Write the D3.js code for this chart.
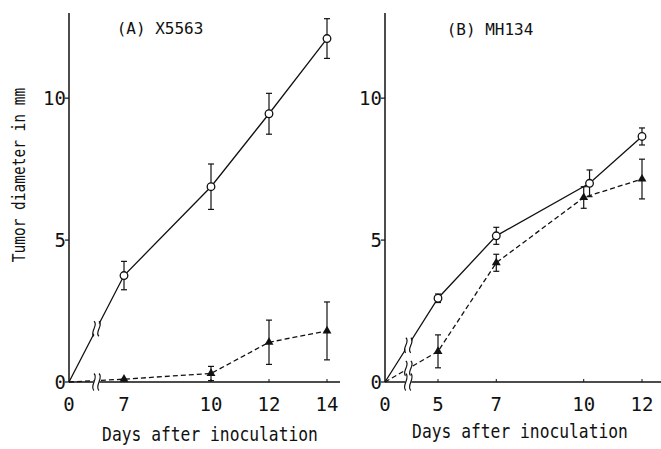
<!DOCTYPE html>
<html><head><meta charset="utf-8">
<script src="https://cdn.jsdelivr.net/npm/d3@7"></script>
<style>body{margin:0;background:#fff}svg{display:block}text{font-family:"DejaVu Sans Mono",monospace;fill:#111}</style>
</head><body><svg id="c" width="661" height="449"></svg>
<script>
// ---- data ----
const titles = ["(A) X5563", "(B) MH134"];
const yTicks = [0, 5, 10];
const xTicksA = [0, 7, 10, 12, 14];
const xTicksB = [0, 5, 7, 10, 12];
const daysA = [0, 7, 10, 12, 14];
const controlA = [0, 3.75, 6.88, 9.45, 12.1];
const controlAErr = [0, 0.5, 0.8, 0.72, 0.7];
const treatedA = [0, 0.1, 0.3, 1.4, 1.8];
const treatedAErr = [0, 0, 0.25, 0.78, 1.02];
const daysBControl = [0, 5, 7, 10.2, 12];
const daysBTreated = [0, 5, 7, 10, 12];
const controlB = [0, 2.95, 5.15, 7.0, 8.65];
const controlBErr = [0, 0.15, 0.3, 0.47, 0.3];
const treatedB = [0, 1.08, 4.2, 6.5, 7.15];
const treatedBErr = [0, 0.58, 0.3, 0.38, 0.7];
const breakA = 3.5, breakB = 2.2;

const svg = d3.select("#c");
const y = d3.scaleLinear().domain([0, 13]).range([382, 13]);

const panels = [
  {x: d3.scaleLinear().domain([0, 7, 14]).range([69, 124, 327]), axisEnd: 340, ticks: xTicksA, brk: breakA,
   title: titles[0], tx: 160, ty: 28, lx: 210, ly: 434,
   series: [{days: daysA, v: controlA, e: controlAErr, type: "c"}, {days: daysA, v: treatedA, e: treatedAErr, type: "t"}]},
  {x: d3.scaleLinear().domain([0, 5, 12]).range([385, 438, 642]), axisEnd: 661, ticks: xTicksB, brk: breakB,
   title: titles[1], tx: 490, ty: 29, lx: 520, ly: 431,
   series: [{days: daysBControl, v: controlB, e: controlBErr, type: "c"}, {days: daysBTreated, v: treatedB, e: treatedBErr, type: "t"}]}
];

function wiggle(g, cx, cy, h) {
  g.append("rect").attr("x", cx - 3).attr("y", cy - h / 2 + 2).attr("width", 6).attr("height", h - 4).attr("fill", "#fff");
  [-2.5, 2.5].forEach(dx => {
    const x0 = cx + dx;
    g.append("path")
      .attr("d", `M${x0},${cy - h / 2} C${x0 + 5},${cy - h / 4} ${x0 - 5},${cy + h / 4} ${x0},${cy + h / 2}`)
      .attr("fill", "none").attr("stroke", "#111").attr("stroke-width", 1.2);
  });
}

panels.forEach(p => {
  const g = svg.append("g");
  const x0 = p.x(0);
  // y axis
  g.append("line").attr("x1", x0).attr("x2", x0).attr("y1", y(13)).attr("y2", y(0)).attr("stroke", "#111").attr("stroke-width", 1.5);
  yTicks.forEach(t => {
    g.append("line").attr("x1", x0 - 4).attr("x2", x0).attr("y1", y(t)).attr("y2", y(t)).attr("stroke", "#111").attr("stroke-width", 1.2);
    g.append("text").attr("x", x0 - 3).attr("y", y(t)).attr("dy", "0.36em").attr("text-anchor", "end")
      .attr("font-size", 19).text(t);
  });
  // x axis
  g.append("line").attr("x1", x0).attr("x2", p.axisEnd).attr("y1", y(0)).attr("y2", y(0)).attr("stroke", "#111").attr("stroke-width", 1.5);
  p.ticks.forEach(t => {
    if (t > 0) g.append("line").attr("x1", p.x(t)).attr("x2", p.x(t)).attr("y1", y(0)).attr("y2", y(0) - 3).attr("stroke", "#111").attr("stroke-width", 1);
    g.append("text").attr("x", p.x(t)).attr("y", 404).attr("dy", "0.36em").attr("text-anchor", "middle")
      .attr("font-size", 19).text(t);
  });
  g.append("text").attr("x", p.tx).attr("y", p.ty).attr("dy", "0.36em").attr("text-anchor", "middle")
    .attr("font-size", 16).text(p.title);
  g.append("text").attr("transform", `translate(${p.lx},${p.ly}) scale(1,1.2)`).attr("dy", "0.36em").attr("text-anchor", "middle")
    .attr("font-size", 16.3).text("Days after inoculation");

  const line = d3.line().x((d, i) => d[0]).y(d => d[1]);
  p.series.forEach(s => {
    const pts = s.days.map((d, i) => [p.x(d), y(s.v[i])]);
    g.append("path").attr("d", line(pts)).attr("fill", "none").attr("stroke", "#111")
      .attr("stroke-width", 1.3).attr("stroke-dasharray", s.type === "t" ? "5,3" : null);
    // error bars
    s.days.forEach((d, i) => {
      if (i === 0 || s.e[i] <= 0) return;
      const cx = p.x(d), lo = y(s.v[i] - s.e[i]), hi = y(s.v[i] + s.e[i]);
      g.append("line").attr("x1", cx).attr("x2", cx).attr("y1", lo).attr("y2", hi).attr("stroke", "#111").attr("stroke-width", 1.2);
      [lo, hi].forEach(yy => g.append("line").attr("x1", cx - 3).attr("x2", cx + 3).attr("y1", yy).attr("y2", yy).attr("stroke", "#111").attr("stroke-width", 1.2));
    });
    // markers
    s.days.forEach((d, i) => {
      if (i === 0) return;
      const cx = p.x(d), cy = y(s.v[i]);
      if (s.type === "c") {
        g.append("circle").attr("cx", cx).attr("cy", cy).attr("r", 3.8).attr("fill", "#fff").attr("stroke", "#111").attr("stroke-width", 1.3);
      } else {
        g.append("path").attr("d", d3.symbol(d3.symbolTriangle, 34)()).attr("transform", `translate(${cx},${cy})`).attr("fill", "#111");
      }
    });
    // break marks on the line
    const bx = p.x(p.brk);
    const by = y(s.v[1] * p.brk / s.days[1]);
    if (!(s.type === "t" && p.brk === breakA)) wiggle(g, bx, by, 15);
  });
  wiggle(g, p.x(p.brk), y(0), 17);
});

// y label
svg.append("text").attr("transform", "translate(19,175) rotate(-90) scale(1,1.2)").attr("dy", "0.36em").attr("text-anchor", "middle")
  .attr("font-size", 14.5).text("Tumor diameter in mm");
</script></body></html>
